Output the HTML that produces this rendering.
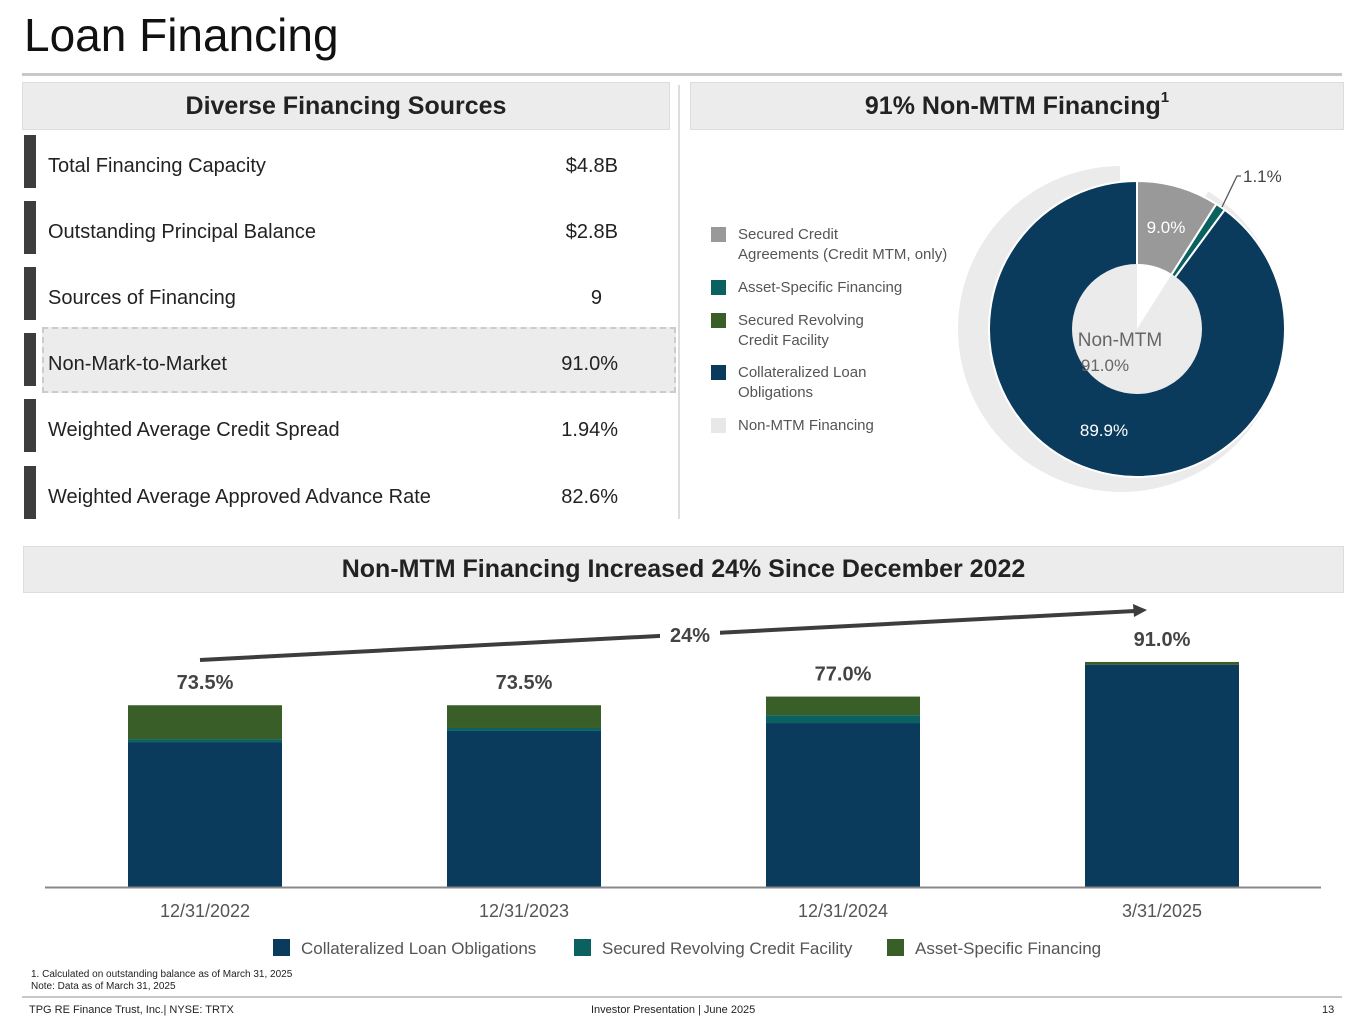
<!DOCTYPE html>
<html><head><meta charset="utf-8">
<style>
body{margin:0;width:1365px;height:1024px;background:#fff;font-family:"Liberation Sans",sans-serif;position:relative;overflow:hidden;color:#222}
.abs{position:absolute}
.hdr{position:absolute;background:#ececec;border:1px solid #ddd;font-weight:bold;font-size:25px;text-align:center;color:#222}
.row{position:absolute;left:24px;width:600px;height:53px}
.row .bar{position:absolute;left:0;top:0;width:12px;height:53px;background:#3d3d3d}
.row .lab{position:absolute;left:24px;top:20px;font-size:20px}
.row .val{position:absolute;right:6px;top:20px;font-size:20px}
.leg{position:absolute;left:711px;font-size:15px;color:#555;line-height:20px}
.leg i{position:absolute;left:0;top:0;width:15px;height:15px}
.leg span{position:absolute;left:27px;top:-2px;white-space:nowrap}
</style></head><body>
<div class="abs" style="left:24px;top:8px;font-size:46px;color:#111">Loan Financing</div>
<div class="abs" style="left:22px;top:73px;width:1320px;height:3px;background:#c8c8c8"></div>

<div class="hdr" style="left:22px;top:82px;width:646px;height:46px;line-height:46px">Diverse Financing Sources</div>
<div class="hdr" style="left:690px;top:82px;width:652px;height:46px;line-height:46px">91% Non-MTM Financing<span style="font-size:15px;position:relative;top:-12px">1</span></div>
<div class="abs" style="left:678px;top:85px;width:2px;height:434px;background:#ddd"></div>

<div class="abs" style="left:42px;top:327px;width:630px;height:62px;background:#ececec;border:2px dashed #ccc"></div>
<div class="row" style="top:135px"><div class="bar"></div><div class="lab">Total Financing Capacity</div><div class="val">$4.8B</div></div>
<div class="row" style="top:201px"><div class="bar"></div><div class="lab">Outstanding Principal Balance</div><div class="val">$2.8B</div></div>
<div class="row" style="top:267px"><div class="bar"></div><div class="lab">Sources of Financing</div><div class="val" style="right:22px">9</div></div>
<div class="row" style="top:333px"><div class="bar"></div><div class="lab">Non-Mark-to-Market</div><div class="val">91.0%</div></div>
<div class="row" style="top:399px"><div class="bar"></div><div class="lab">Weighted Average Credit Spread</div><div class="val">1.94%</div></div>
<div class="row" style="top:466px"><div class="bar"></div><div class="lab">Weighted Average Approved Advance Rate</div><div class="val">82.6%</div></div>

<div class="leg" style="top:227px"><i style="background:#999"></i><span>Secured Credit<br>Agreements (Credit MTM, only)</span></div>
<div class="leg" style="top:280px"><i style="background:#0b6160"></i><span>Asset-Specific Financing</span></div>
<div class="leg" style="top:313px"><i style="background:#3a5e28"></i><span>Secured Revolving<br>Credit Facility</span></div>
<div class="leg" style="top:365px"><i style="background:#0a3a5c"></i><span>Collateralized Loan<br>Obligations</span></div>
<div class="leg" style="top:418px"><i style="background:#e8e8e8"></i><span>Non-MTM Financing</span></div>

<svg class="abs" style="left:0;top:0" width="1365" height="1024">
<g id="donut"></g>
</svg>

<div class="hdr" style="left:23px;top:546px;width:1319px;height:45px;line-height:45px">Non-MTM Financing Increased 24% Since December 2022</div>
<svg class="abs" style="left:0;top:0" width="1365" height="1024">
<g id="bars"></g>
</svg>

<div class="abs" style="left:31px;top:969px;font-size:10px;line-height:12px">1. Calculated on outstanding balance as of March 31, 2025<br>Note: Data as of March 31, 2025</div>
<div class="abs" style="left:22px;top:996px;width:1320px;height:2px;background:#c8c8c8"></div>
<div class="abs" style="left:29px;top:1004px;font-size:11px">TPG RE Finance Trust, Inc.| NYSE: TRTX</div>
<div class="abs" style="left:591px;top:1004px;font-size:11px">Investor Presentation | June 2025</div>
<div class="abs" style="left:1322px;top:1004px;font-size:11px">13</div>

<script>
const NS="http://www.w3.org/2000/svg";
function mk(t,a,p){const e=document.createElementNS(NS,t);for(const k in a)e.setAttribute(k,a[k]);p.appendChild(e);return e;}
// donut data
const donutLabels=["Secured Credit","Asset-Specific","Collateralized Loan Obligations"];
const donutValues=[9.0,1.1,89.9];
const donutColors=["#999999","#0b6160","#0a3a5c"];
const nonMtm=91.0;
const dg=document.getElementById('donut');
const cx=1137,cy=329,R=148,r=65;
function pt(x,y,rad,f){const a=f*2*Math.PI;return [x+rad*Math.sin(a),y-rad*Math.cos(a)];}
function sector(x,y,rad,f0,f1){const p0=pt(x,y,rad,f0),p1=pt(x,y,rad,f1);const lg=(f1-f0)>0.5?1:0;return `M${x},${y}L${p0[0]},${p0[1]}A${rad},${rad} 0 ${lg} 1 ${p1[0]},${p1[1]}Z`;}
// background non-MTM ring
const bgStart=(100-nonMtm)/100;
let bgp=mk('path',{d:sector(1121,329,163,bgStart,0.999),fill:'#ebebeb'},dg);


let acc=0;
donutValues.forEach((v,i)=>{const f0=acc/100,f1=(acc+v)/100;acc+=v;
 const p=mk('path',{d:sector(cx,cy,R,f0,f1),fill:donutColors[i],stroke:'#fff','stroke-width':2},dg);
 
 
});
mk('circle',{cx:cx,cy:cy,r:r,fill:'#ebebeb'},dg);
let wp=mk('path',{d:sector(cx,cy,r,0,(100-nonMtm)/100),fill:'#fff'},dg);


let t1=mk('text',{x:1166,y:233,'font-size':17,fill:'#fff','text-anchor':'middle'},dg);t1.textContent=donutValues[0].toFixed(1)+'%';
let t2=mk('text',{x:1104,y:436,'font-size':17,fill:'#fff','text-anchor':'middle'},dg);t2.textContent=donutValues[2].toFixed(1)+'%';
mk('path',{d:'M1222,207L1237,176L1241,176',stroke:'#555',fill:'none','stroke-width':1.3},dg);
let t3=mk('text',{x:1243,y:182,'font-size':17,fill:'#444'},dg);t3.textContent=donutValues[1].toFixed(1)+'%';
let t4=mk('text',{x:1120,y:346,'font-size':19,fill:'#666','text-anchor':'middle'},dg);t4.textContent='Non-MTM';
let t5=mk('text',{x:1105,y:371,'font-size':17,fill:'#666','text-anchor':'middle'},dg);t5.textContent=nonMtm.toFixed(1)+'%';

// bar chart data
const categories=["12/31/2022","12/31/2023","12/31/2024","3/31/2025"];
const cloValues=[58.6,63.1,66.3,89.9];
const revolvingValues=[1.2,1.2,3.2,0.0];
const assetValues=[13.7,9.2,7.5,1.1];
const totalLabels=["73.5%","73.5%","77.0%","91.0%"];
const seriesNames=["Collateralized Loan Obligations","Secured Revolving Credit Facility","Asset-Specific Financing"];
const seriesColors=["#0a3a5c","#0b6160","#3a5e28"];
const bg=document.getElementById('bars');
const base=887,scale=2.473,x0=205,step=319,bw=154;
const yv=v=>base-v*scale, xc=i=>x0+i*step;
const series=[cloValues,revolvingValues,assetValues];
categories.forEach((c,i)=>{
 let acc=0;
 series.forEach((s,k)=>{const v=s[i];if(v<=0)return;
  const rc=mk('rect',{x:xc(i)-bw/2,y:yv(acc+v),width:bw,height:v*scale,fill:seriesColors[k]},bg);
  
  
  acc+=v;});
 const lt=mk('text',{x:xc(i),y:yv(acc)-16,'font-size':20,'font-weight':'bold',fill:'#444','text-anchor':'middle'},bg);lt.textContent=totalLabels[i];
 const ct=mk('text',{x:xc(i),y:917,'font-size':18,fill:'#555','text-anchor':'middle'},bg);ct.textContent=c;
});
mk('line',{x1:45,y1:887.5,x2:1321,y2:887.5,stroke:'#888','stroke-width':2},bg);
// arrow
mk('line',{x1:200,y1:660,x2:1135,y2:611,stroke:'#3d3d3d','stroke-width':4},bg);
mk('path',{d:'M1147,610L1133,604L1134,617Z',fill:'#3d3d3d'},bg);
mk('rect',{x:660,y:620,width:60,height:28,fill:'#fff'},bg);
const at=mk('text',{x:690,y:642,'font-size':20,'font-weight':'bold',fill:'#444','text-anchor':'middle'},bg);at.textContent='24%';
// legend
const lx=[273,574,887];
seriesNames.forEach((n,k)=>{
 const r=mk('rect',{x:lx[k],y:939,width:17,height:17,fill:seriesColors[k]},bg);
 
 
 const t=mk('text',{x:lx[k]+28,y:954,'font-size':17,fill:'#555'},bg);t.textContent=n;
});
</script>
</body></html>
